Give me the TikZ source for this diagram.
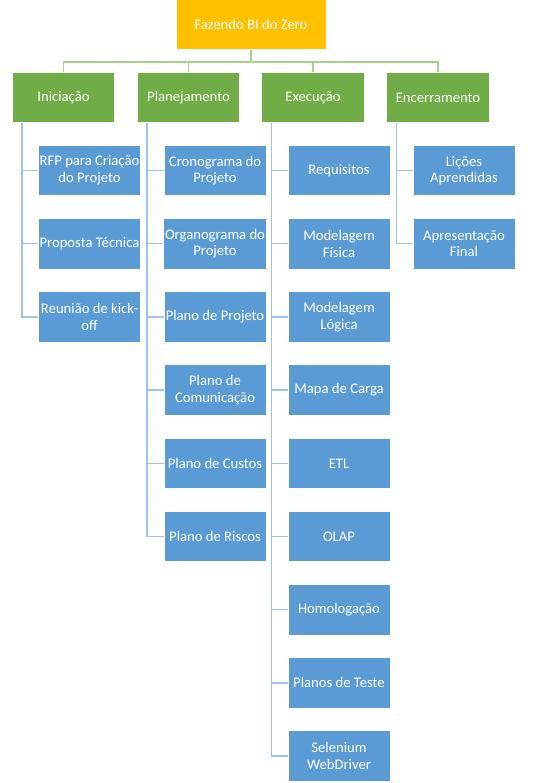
\documentclass[tikz,border=0pt]{standalone}
\usepackage{fontspec}
\setmainfont{Carlito}
\usepackage{xcolor}
\usetikzlibrary{positioning}
\definecolor{rootfill}{HTML}{FFC000}
\definecolor{phasefill}{HTML}{70AD47}
\definecolor{taskfill}{HTML}{5B9BD5}
\definecolor{phaseline}{HTML}{A9D18E}
\definecolor{taskline}{HTML}{9DC3E6}

\begin{document}
\begin{tikzpicture}[x=0.75pt,y=-0.75pt,node distance=16.3pt,
  box/.style={draw=white,line width=0.6pt,text=white,align=center,inner sep=1pt,
    font=\fontsize{11}{12.5}\selectfont,minimum width=76.5pt,minimum height=38pt},
  rootbox/.style={box,fill=rootfill,minimum width=112.5pt,minimum height=37.5pt},
  phase/.style={box,fill=phasefill,minimum width=77pt},
  task/.style={box,fill=taskfill},
  phaselink/.style={draw=phaseline,line width=1.1pt},
  tasklink/.style={draw=taskline,line width=1.1pt}]
  \useasboundingbox (0,0) rectangle (537,783);
  \node[rootbox] (root) at (251,24.5) {Fazendo BI do Zero};
  \node[phase] (ini)  at (63.5,97.5)  {Iniciação};
  \node[phase] (plan) at (188.5,97.5) {Planejamento};
  \node[phase] (exec) at (313,97.5)   {Execução};
  \node[phase] (enc)  at (438,97.5)   {Encerramento};
  % Iniciação
  \node[task] (ini1) at (89.5,170.5) {RFP para Criação\\do Projeto};
  \node[task] (ini2) [below = of ini1] {Proposta Técnica};
  \node[task] (ini3) [below = of ini2] {Reunião de kick-\\off};
  % Planejamento
  \node[task] (plan1) at (215,170.5) {Cronograma do\\Projeto};
  \node[task] (plan2) [below = of plan1] {Organograma do\\Projeto};
  \node[task] (plan3) [below = of plan2] {Plano de Projeto};
  \node[task] (plan4) [below = of plan3] {Plano de\\Comunicação};
  \node[task] (plan5) [below = of plan4] {Plano de Custos};
  \node[task] (plan6) [below = of plan5] {Plano de Riscos};
  % Execução
  \node[task] (exec1) at (339,170.5) {Requisitos};
  \node[task] (exec2) [below = of exec1] {Modelagem\\Física};
  \node[task] (exec3) [below = of exec2] {Modelagem\\Lógica};
  \node[task] (exec4) [below = of exec3] {Mapa de Carga};
  \node[task] (exec5) [below = of exec4] {ETL};
  \node[task] (exec6) [below = of exec5] {OLAP};
  \node[task] (exec7) [below = of exec6] {Homologação};
  \node[task] (exec8) [below = of exec7] {Planos de Teste};
  \node[task] (exec9) [below = of exec8] {Selenium\\WebDriver};
  % Encerramento
  \node[task] (enc1) at (464,170.5) {Lições\\Aprendidas};
  \node[task] (enc2) [below = of enc1] {Apresentação\\Final};
  \draw[phaselink] (root.south) -- ++(0,12) -| (ini.north);
  \draw[phaselink] (root.south) -- ++(0,12) -| (plan.north);
  \draw[phaselink] (root.south) -- ++(0,12) -| (exec.north);
  \draw[phaselink] (root.south) -- ++(0,12) -| (enc.north);
  \draw[tasklink] ([xshift=7.5pt]ini.south west) |- (ini1.west);
  \draw[tasklink] ([xshift=7.5pt]ini.south west) |- (ini2.west);
  \draw[tasklink] ([xshift=7.5pt]ini.south west) |- (ini3.west);
  \draw[tasklink] ([xshift=7.5pt]plan.south west) |- (plan1.west);
  \draw[tasklink] ([xshift=7.5pt]plan.south west) |- (plan2.west);
  \draw[tasklink] ([xshift=7.5pt]plan.south west) |- (plan3.west);
  \draw[tasklink] ([xshift=7.5pt]plan.south west) |- (plan4.west);
  \draw[tasklink] ([xshift=7.5pt]plan.south west) |- (plan5.west);
  \draw[tasklink] ([xshift=7.5pt]plan.south west) |- (plan6.west);
  \draw[tasklink] ([xshift=7.5pt]exec.south west) |- (exec1.west);
  \draw[tasklink] ([xshift=7.5pt]exec.south west) |- (exec2.west);
  \draw[tasklink] ([xshift=7.5pt]exec.south west) |- (exec3.west);
  \draw[tasklink] ([xshift=7.5pt]exec.south west) |- (exec4.west);
  \draw[tasklink] ([xshift=7.5pt]exec.south west) |- (exec5.west);
  \draw[tasklink] ([xshift=7.5pt]exec.south west) |- (exec6.west);
  \draw[tasklink] ([xshift=7.5pt]exec.south west) |- (exec7.west);
  \draw[tasklink] ([xshift=7.5pt]exec.south west) |- (exec8.west);
  \draw[tasklink] ([xshift=7.5pt]exec.south west) |- (exec9.west);
  \draw[tasklink] ([xshift=7.5pt]enc.south west) |- (enc1.west);
  \draw[tasklink] ([xshift=7.5pt]enc.south west) |- (enc2.west);
\end{tikzpicture}
\end{document}
